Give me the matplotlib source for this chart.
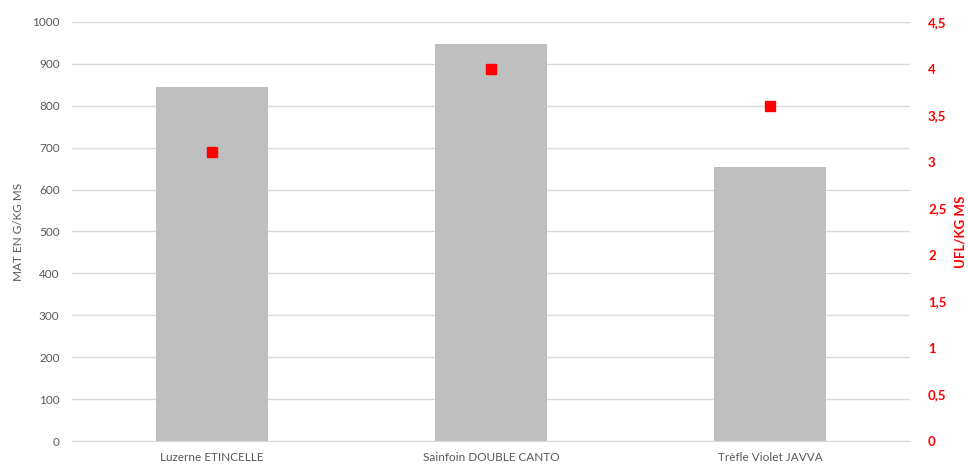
import matplotlib
matplotlib.use("Agg")
import matplotlib.pyplot as plt
from matplotlib.ticker import FuncFormatter

plt.rcParams['font.family'] = ['Lato', 'DejaVu Sans']

categories = ["Luzerne ETINCELLE", "Sainfoin DOUBLE CANTO", "Trèfle Violet JAVVA"]
mat_values = [845, 948, 655]      # MAT en g/kg MS
ufl_values = [3.1, 4.0, 3.6]      # UFL/kg MS
left_ticks = list(range(0, 1001, 100))
right_ticks = [0, 0.5, 1, 1.5, 2, 2.5, 3, 3.5, 4, 4.5]

fig = plt.figure(figsize=(9.68, 4.73), dpi=100)
ax = fig.add_axes([72 / 968, 1 - 441 / 473, (910 - 72) / 968, (441 - 22) / 473])
ax2 = ax.twinx()

x = range(len(categories))
ax.bar(x, mat_values, width=0.40, color="#bfbfbf", zorder=2)
ax.set_xlim(-0.5, len(categories) - 0.5)
ax.set_ylim(0, 1000)
ax.set_yticks(left_ticks)
ax.set_xticks(list(x))
ax.set_xticklabels(categories, fontsize=8.5, color="#595959")
ax.tick_params(axis="y", labelsize=8.5, labelcolor="#595959", length=0, pad=9)
ax.tick_params(axis="x", length=0, pad=8)
ax.grid(axis="y", color="#d9d9d9", linewidth=1, zorder=0)
ax.set_axisbelow(True)
for s in ["top", "right", "left"]:
    ax.spines[s].set_visible(False)
ax.spines["bottom"].set_color("#d9d9d9")
ax.set_ylabel("MAT EN G/KG MS", fontsize=8.5, color="#595959", labelpad=6)

ax2.plot(list(x), ufl_values, linestyle="none", marker="s", markersize=7,
         color="#ff0000", zorder=3)
ax2.set_ylim(0, 4.5)
ax2.set_yticks(right_ticks)
ax2.yaxis.set_major_formatter(FuncFormatter(lambda v, p: f"{v:g}".replace(".", ",")))
ax2.tick_params(axis="y", labelsize=9.5, labelcolor="#ff0000", length=0, pad=13)
for lbl in ax2.get_yticklabels():
    lbl.set_fontweight("bold")
for s in ["top", "right", "left", "bottom"]:
    ax2.spines[s].set_visible(False)
ax2.set_ylabel("UFL/KG MS", fontsize=9.5, color="#ff0000", fontweight="bold", labelpad=6)

fig.savefig("out.png", dpi=100)
